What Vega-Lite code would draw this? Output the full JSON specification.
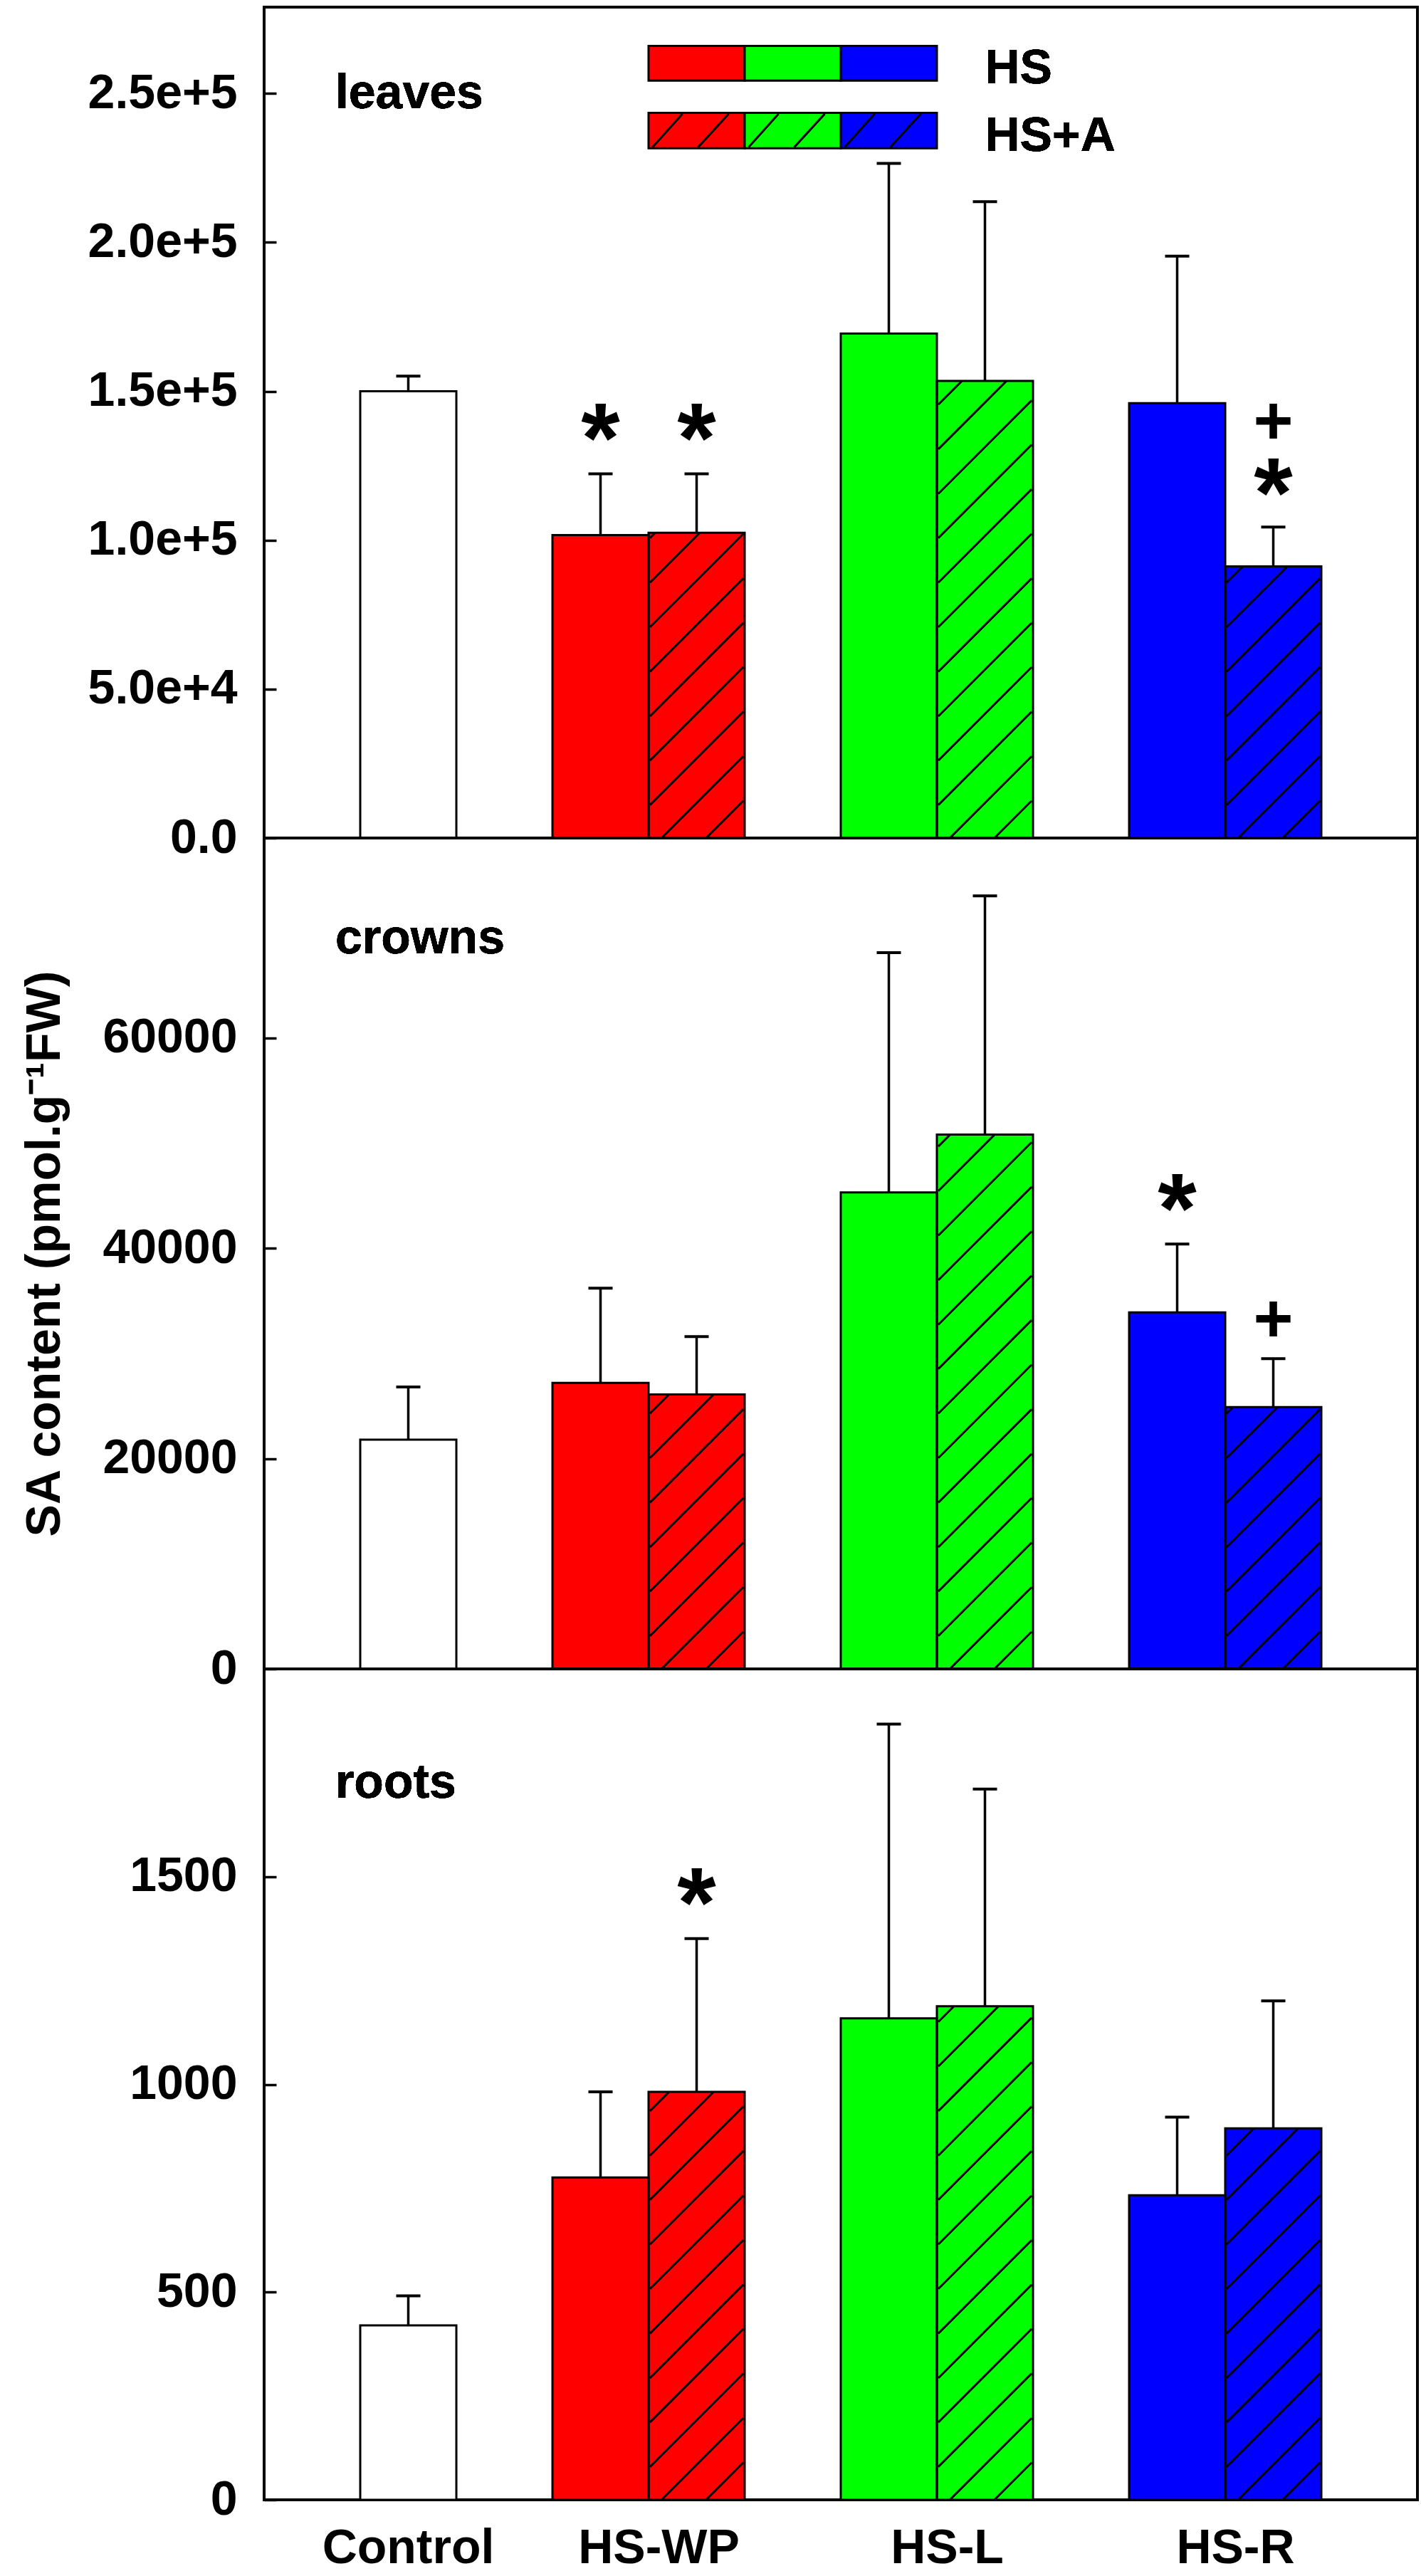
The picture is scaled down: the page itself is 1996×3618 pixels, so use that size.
{
  "$schema": "https://vega.github.io/schema/vega-lite/v6.json",
  "background": "#ffffff",
  "padding": {"left": 27, "top": 8, "right": 6, "bottom": 0},
  "spacing": 0,
  "bounds": "flush",
  "config": {
    "font": "Liberation Sans",
    "view": {"stroke": "#000000", "strokeWidth": 4},
    "axis": {
      "labelFont": "Liberation Sans",
      "labelFontSize": 68,
      "labelFontWeight": "bold",
      "labelColor": "#000000",
      "labelLimit": 0,
      "titleFont": "Liberation Sans",
      "titleFontSize": 68,
      "titleFontWeight": "bold",
      "titleColor": "#000000",
      "domain": false,
      "grid": false,
      "tickColor": "#000000",
      "tickWidth": 3.5,
      "labelOverlap": false
    },
    "axisY": {"tickSize": 17, "offset": -17, "labelPadding": 38, "titlePadding": 46, "maxExtent": 400},
    "axisX": {"ticks": false, "labelPadding": 34, "labelAngle": 0}
  },
  "datasets": {
    "bars": [
      {"organ": "leaves", "bar": "Control", "group": "Control", "treat": "C", "mean": 150000, "hi": 155100},
      {"organ": "leaves", "bar": "HS-WP HS", "group": "HS-WP", "treat": "HS", "mean": 101700, "hi": 122300},
      {"organ": "leaves", "bar": "HS-WP HS+A", "group": "HS-WP", "treat": "HS+A", "mean": 102500, "hi": 122300},
      {"organ": "leaves", "bar": "HS-L HS", "group": "HS-L", "treat": "HS", "mean": 169400, "hi": 226500},
      {"organ": "leaves", "bar": "HS-L HS+A", "group": "HS-L", "treat": "HS+A", "mean": 153500, "hi": 213700},
      {"organ": "leaves", "bar": "HS-R HS", "group": "HS-R", "treat": "HS", "mean": 146000, "hi": 195400},
      {"organ": "leaves", "bar": "HS-R HS+A", "group": "HS-R", "treat": "HS+A", "mean": 91200, "hi": 104400},
      {"organ": "crowns", "bar": "Control", "group": "Control", "treat": "C", "mean": 21800, "hi": 26800},
      {"organ": "crowns", "bar": "HS-WP HS", "group": "HS-WP", "treat": "HS", "mean": 27200, "hi": 36200},
      {"organ": "crowns", "bar": "HS-WP HS+A", "group": "HS-WP", "treat": "HS+A", "mean": 26100, "hi": 31600},
      {"organ": "crowns", "bar": "HS-L HS", "group": "HS-L", "treat": "HS", "mean": 45300, "hi": 68100},
      {"organ": "crowns", "bar": "HS-L HS+A", "group": "HS-L", "treat": "HS+A", "mean": 50800, "hi": 73500},
      {"organ": "crowns", "bar": "HS-R HS", "group": "HS-R", "treat": "HS", "mean": 33900, "hi": 40400},
      {"organ": "crowns", "bar": "HS-R HS+A", "group": "HS-R", "treat": "HS+A", "mean": 24900, "hi": 29500},
      {"organ": "roots", "bar": "Control", "group": "Control", "treat": "C", "mean": 420, "hi": 491},
      {"organ": "roots", "bar": "HS-WP HS", "group": "HS-WP", "treat": "HS", "mean": 776, "hi": 982},
      {"organ": "roots", "bar": "HS-WP HS+A", "group": "HS-WP", "treat": "HS+A", "mean": 982, "hi": 1351},
      {"organ": "roots", "bar": "HS-L HS", "group": "HS-L", "treat": "HS", "mean": 1159, "hi": 1867},
      {"organ": "roots", "bar": "HS-L HS+A", "group": "HS-L", "treat": "HS+A", "mean": 1188, "hi": 1711},
      {"organ": "roots", "bar": "HS-R HS", "group": "HS-R", "treat": "HS", "mean": 733, "hi": 921},
      {"organ": "roots", "bar": "HS-R HS+A", "group": "HS-R", "treat": "HS+A", "mean": 894, "hi": 1201}
    ],
    "notes": [
      {"organ": "leaves", "bar": "HS-WP HS", "sym": "*", "at": 138200},
      {"organ": "leaves", "bar": "HS-WP HS+A", "sym": "*", "at": 138200},
      {"organ": "leaves", "bar": "HS-R HS+A", "sym": "+", "at": 139700},
      {"organ": "leaves", "bar": "HS-R HS+A", "sym": "*", "at": 119800},
      {"organ": "crowns", "bar": "HS-R HS", "sym": "*", "at": 44900},
      {"organ": "crowns", "bar": "HS-R HS+A", "sym": "+", "at": 33200},
      {"organ": "roots", "bar": "HS-WP HS+A", "sym": "*", "at": 1465}
    ],
    "legend": [
      {"row": "HS", "group": "HS-WP", "bar": "HS-WP HS+A"},
      {"row": "HS", "group": "HS-L", "bar": "gap2"},
      {"row": "HS", "group": "HS-R", "bar": "HS-L HS"},
      {"row": "HS+A", "group": "HS-WP", "bar": "HS-WP HS+A"},
      {"row": "HS+A", "group": "HS-L", "bar": "gap2"},
      {"row": "HS+A", "group": "HS-R", "bar": "HS-L HS"}
    ]
  },
  "vconcat": [
    {
      "width": 1620,
      "height": 1167,
      "data": {"name": "bars"},
      "transform": [{"filter": "datum.organ === 'leaves'"}],
      "resolve": {"axis": {"x": "independent", "y": "independent"}},
      "encoding": {
        "x": {"field": "bar", "type": "nominal", "axis": null,
          "scale": {"type": "band", "paddingInner": 0, "paddingOuter": 0,
            "domain": ["gap0", "Control", "gap1", "HS-WP HS", "HS-WP HS+A", "gap2", "HS-L HS", "HS-L HS+A", "gap3", "HS-R HS", "HS-R HS+A", "gap4"]}}
      },
      "layer": [
        {
          "mark": {"type": "bar", "strokeWidth": 0},
          "encoding": {
            "y": {"field": "mean", "type": "quantitative",
              "scale": {"domain": [0, 279000], "nice": false, "zero": false},
              "axis": {"orient": "left", "title": null, "values": [0, 50000, 100000, 150000, 200000, 250000],
                "labelExpr": "datum.value === 0 ? '0.0' : format(datum.value, '.1e')"}},
            "fill": {"field": "group", "type": "nominal", "legend": null,
              "scale": {"domain": ["Control", "HS-WP", "HS-L", "HS-R"], "range": ["#ffffff", "#ff0000", "#00ff00", "#0000ff"]}}
          }
        },
        {
          "transform": [{"filter": "datum.treat === 'HS+A'"}],
          "mark": {"type": "point", "clip": true, "filled": false, "opacity": 1, "stroke": "#000000", "strokeWidth": 3, "size": 705600,
            "shape": "M0.032 1L0.156 0.876M-0.117 1L0.156 0.727M-0.156 0.89L0.156 0.578M-0.156 0.741L0.156 0.429M-0.156 0.593L0.156 0.281M-0.156 0.444L0.156 0.132M-0.156 0.295L0.156 -0.017M-0.156 0.146L0.156 -0.166M-0.156 -0.003L0.156 -0.315M-0.156 -0.151L0.156 -0.463M-0.156 -0.3L0.156 -0.612M-0.156 -0.449L0.156 -0.761M-0.156 -0.598L0.156 -0.91M-0.156 -0.747L0.097 -1M-0.156 -0.895L-0.051 -1"},
          "encoding": {"y": {"datum": 100440, "type": "quantitative", "axis": null}}
        },
        {
          "transform": [{"filter": "datum.treat === 'HS+A'"}],
          "mark": {"type": "bar", "color": "#ffffff", "strokeWidth": 0},
          "encoding": {
            "y": {"field": "mean", "type": "quantitative", "axis": null},
            "y2": {"datum": 206500}
          }
        },
        {
          "mark": {"type": "bar", "fillOpacity": 0, "stroke": "#000000", "strokeWidth": 3},
          "encoding": {"y": {"field": "mean", "type": "quantitative", "axis": null}}
        },
        {
          "mark": {"type": "rule", "color": "#000000", "strokeWidth": 3.5},
          "encoding": {
            "y": {"field": "mean", "type": "quantitative", "axis": null},
            "y2": {"field": "hi"}
          }
        },
        {
          "mark": {"type": "tick", "orient": "horizontal", "color": "#000000", "opacity": 1, "size": 34, "thickness": 4},
          "encoding": {"y": {"field": "hi", "type": "quantitative", "axis": null}}
        },
        {
          "data": {"name": "notes"},
          "transform": [{"filter": "datum.organ === 'leaves' && datum.sym === '*'"}],
          "mark": {"type": "text", "fontSize": 140, "fontWeight": "bold", "baseline": "middle", "align": "center", "dy": 22, "color": "#000000"},
          "encoding": {"y": {"field": "at", "type": "quantitative", "axis": null}, "text": {"field": "sym"}}
        },
        {
          "data": {"name": "notes"},
          "transform": [{"filter": "datum.organ === 'leaves' && datum.sym === '+'"}],
          "mark": {"type": "text", "fontSize": 96, "fontWeight": "bold", "baseline": "middle", "align": "center", "dy": 2, "color": "#000000"},
          "encoding": {"y": {"field": "at", "type": "quantitative", "axis": null}, "text": {"field": "sym"}}
        },
        {
          "mark": {"type": "text", "text": "leaves", "fontSize": 68, "fontWeight": "bold", "align": "left", "baseline": "alphabetic", "color": "#000000"},
          "encoding": {
            "x": {"datum": "gap0", "bandPosition": 0.74, "axis": null},
            "y": {"datum": 245000, "type": "quantitative", "axis": null}
          }
        },
        {
          "data": {"name": "legend"},
          "transform": [{"filter": "datum.row === 'HS'"}],
          "mark": {"type": "bar", "stroke": "#000000", "strokeWidth": 3},
          "encoding": {
            "y": {"datum": 266000, "type": "quantitative", "axis": null},
            "y2": {"datum": 254300},
            "fill": {"field": "group", "type": "nominal", "legend": null}
          }
        },
        {
          "data": {"name": "legend"},
          "transform": [{"filter": "datum.row === 'HS+A'"}],
          "mark": {"type": "bar", "stroke": "#000000", "strokeWidth": 3},
          "encoding": {
            "y": {"datum": 243500, "type": "quantitative", "axis": null},
            "y2": {"datum": 231600},
            "fill": {"field": "group", "type": "nominal", "legend": null}
          }
        },
        {
          "data": {"name": "legend"},
          "transform": [{"filter": "datum.row === 'HS+A'"}],
          "mark": {"type": "point", "filled": false, "opacity": 1, "stroke": "#000000", "strokeWidth": 3, "size": 18225,
            "shape": "M-0.918 0.348L-0.296 -0.348M0.03 0.348L0.667 -0.348"},
          "encoding": {"y": {"datum": 237550, "type": "quantitative", "axis": null}}
        },
        {
          "mark": {"type": "text", "text": "HS", "fontSize": 68, "fontWeight": "bold", "align": "left", "baseline": "middle", "color": "#000000"},
          "encoding": {
            "x": {"datum": "HS-L HS+A", "axis": null},
            "y": {"datum": 258100, "type": "quantitative", "axis": null}
          }
        },
        {
          "mark": {"type": "text", "text": "HS+A", "fontSize": 68, "fontWeight": "bold", "align": "left", "baseline": "middle", "color": "#000000"},
          "encoding": {
            "x": {"datum": "HS-L HS+A", "axis": null},
            "y": {"datum": 235400, "type": "quantitative", "axis": null}
          }
        }
      ]
    },
    {
      "width": 1620,
      "height": 1167,
      "data": {"name": "bars"},
      "transform": [{"filter": "datum.organ === 'crowns'"}],
      "resolve": {"axis": {"x": "independent", "y": "independent"}},
      "encoding": {
        "x": {"field": "bar", "type": "nominal", "axis": null,
          "scale": {"type": "band", "paddingInner": 0, "paddingOuter": 0,
            "domain": ["gap0", "Control", "gap1", "HS-WP HS", "HS-WP HS+A", "gap2", "HS-L HS", "HS-L HS+A", "gap3", "HS-R HS", "HS-R HS+A", "gap4"]}}
      },
      "layer": [
        {
          "mark": {"type": "bar", "strokeWidth": 0},
          "encoding": {
            "y": {"field": "mean", "type": "quantitative",
              "scale": {"domain": [0, 79000], "nice": false, "zero": false},
              "axis": {"orient": "left", "title": "SA content (pmol.g⁻¹FW)", "values": [0, 20000, 40000, 60000], "format": "d"}},
            "fill": {"field": "group", "type": "nominal", "legend": null,
              "scale": {"domain": ["Control", "HS-WP", "HS-L", "HS-R"], "range": ["#ffffff", "#ff0000", "#00ff00", "#0000ff"]}}
          }
        },
        {
          "transform": [{"filter": "datum.treat === 'HS+A'"}],
          "mark": {"type": "point", "clip": true, "filled": false, "opacity": 1, "stroke": "#000000", "strokeWidth": 3, "size": 705600,
            "shape": "M0.032 1L0.156 0.876M-0.117 1L0.156 0.727M-0.156 0.89L0.156 0.578M-0.156 0.741L0.156 0.429M-0.156 0.593L0.156 0.281M-0.156 0.444L0.156 0.132M-0.156 0.295L0.156 -0.017M-0.156 0.146L0.156 -0.166M-0.156 -0.003L0.156 -0.315M-0.156 -0.151L0.156 -0.463M-0.156 -0.3L0.156 -0.612M-0.156 -0.449L0.156 -0.761M-0.156 -0.598L0.156 -0.91M-0.156 -0.747L0.097 -1M-0.156 -0.895L-0.051 -1"},
          "encoding": {"y": {"datum": 28440, "type": "quantitative", "axis": null}}
        },
        {
          "transform": [{"filter": "datum.treat === 'HS+A'"}],
          "mark": {"type": "bar", "color": "#ffffff", "strokeWidth": 0},
          "encoding": {
            "y": {"field": "mean", "type": "quantitative", "axis": null},
            "y2": {"datum": 58500}
          }
        },
        {
          "mark": {"type": "bar", "fillOpacity": 0, "stroke": "#000000", "strokeWidth": 3},
          "encoding": {"y": {"field": "mean", "type": "quantitative", "axis": null}}
        },
        {
          "mark": {"type": "rule", "color": "#000000", "strokeWidth": 3.5},
          "encoding": {
            "y": {"field": "mean", "type": "quantitative", "axis": null},
            "y2": {"field": "hi"}
          }
        },
        {
          "mark": {"type": "tick", "orient": "horizontal", "color": "#000000", "opacity": 1, "size": 34, "thickness": 4},
          "encoding": {"y": {"field": "hi", "type": "quantitative", "axis": null}}
        },
        {
          "data": {"name": "notes"},
          "transform": [{"filter": "datum.organ === 'crowns' && datum.sym === '*'"}],
          "mark": {"type": "text", "fontSize": 140, "fontWeight": "bold", "baseline": "middle", "align": "center", "dy": 22, "color": "#000000"},
          "encoding": {"y": {"field": "at", "type": "quantitative", "axis": null}, "text": {"field": "sym"}}
        },
        {
          "data": {"name": "notes"},
          "transform": [{"filter": "datum.organ === 'crowns' && datum.sym === '+'"}],
          "mark": {"type": "text", "fontSize": 96, "fontWeight": "bold", "baseline": "middle", "align": "center", "dy": 2, "color": "#000000"},
          "encoding": {"y": {"field": "at", "type": "quantitative", "axis": null}, "text": {"field": "sym"}}
        },
        {
          "mark": {"type": "text", "text": "crowns", "fontSize": 68, "fontWeight": "bold", "align": "left", "baseline": "alphabetic", "color": "#000000"},
          "encoding": {
            "x": {"datum": "gap0", "bandPosition": 0.74, "axis": null},
            "y": {"datum": 68000, "type": "quantitative", "axis": null}
          }
        }
      ]
    },
    {
      "width": 1620,
      "height": 1167,
      "data": {"name": "bars"},
      "transform": [{"filter": "datum.organ === 'roots'"}],
      "resolve": {"axis": {"x": "independent", "y": "independent"}},
      "encoding": {
        "x": {"field": "bar", "type": "nominal", "axis": null,
          "scale": {"type": "band", "paddingInner": 0, "paddingOuter": 0,
            "domain": ["gap0", "Control", "gap1", "HS-WP HS", "HS-WP HS+A", "gap2", "HS-L HS", "HS-L HS+A", "gap3", "HS-R HS", "HS-R HS+A", "gap4"]}}
      },
      "layer": [
        {
          "mark": {"type": "bar", "strokeWidth": 0},
          "encoding": {
            "x": {"field": "bar", "type": "nominal",
              "scale": {"type": "band", "paddingInner": 0, "paddingOuter": 0,
                "domain": ["gap0", "Control", "gap1", "HS-WP HS", "HS-WP HS+A", "gap2", "HS-L HS", "HS-L HS+A", "gap3", "HS-R HS", "HS-R HS+A", "gap4"]},
              "axis": {"orient": "bottom", "title": null, "values": ["Control"]}},
            "y": {"field": "mean", "type": "quantitative",
              "scale": {"domain": [0, 2000], "nice": false, "zero": false},
              "axis": {"orient": "left", "title": null, "values": [0, 500, 1000, 1500], "format": "d"}},
            "fill": {"field": "group", "type": "nominal", "legend": null,
              "scale": {"domain": ["Control", "HS-WP", "HS-L", "HS-R"], "range": ["#ffffff", "#ff0000", "#00ff00", "#0000ff"]}}
          }
        },
        {
          "transform": [{"filter": "datum.treat === 'HS+A'"}],
          "mark": {"type": "point", "clip": true, "filled": false, "opacity": 1, "stroke": "#000000", "strokeWidth": 3, "size": 705600,
            "shape": "M0.032 1L0.156 0.876M-0.117 1L0.156 0.727M-0.156 0.89L0.156 0.578M-0.156 0.741L0.156 0.429M-0.156 0.593L0.156 0.281M-0.156 0.444L0.156 0.132M-0.156 0.295L0.156 -0.017M-0.156 0.146L0.156 -0.166M-0.156 -0.003L0.156 -0.315M-0.156 -0.151L0.156 -0.463M-0.156 -0.3L0.156 -0.612M-0.156 -0.449L0.156 -0.761M-0.156 -0.598L0.156 -0.91M-0.156 -0.747L0.097 -1M-0.156 -0.895L-0.051 -1"},
          "encoding": {"y": {"datum": 720, "type": "quantitative", "axis": null}}
        },
        {
          "transform": [{"filter": "datum.treat === 'HS+A'"}],
          "mark": {"type": "bar", "color": "#ffffff", "strokeWidth": 0},
          "encoding": {
            "y": {"field": "mean", "type": "quantitative", "axis": null},
            "y2": {"datum": 1480}
          }
        },
        {
          "mark": {"type": "bar", "fillOpacity": 0, "stroke": "#000000", "strokeWidth": 3},
          "encoding": {
            "x": {"field": "bar", "type": "nominal",
              "scale": {"type": "band", "paddingInner": 0, "paddingOuter": 0,
                "domain": ["gap0", "Control", "gap1", "HS-WP HS", "HS-WP HS+A", "gap2", "HS-L HS", "HS-L HS+A", "gap3", "HS-R HS", "HS-R HS+A", "gap4"]},
              "axis": {"orient": "bottom", "title": null, "values": ["HS-WP HS", "HS-L HS", "HS-R HS"], "labelOffset": 82,
                "labelExpr": "datum.value === 'HS-WP HS' ? 'HS-WP' : datum.value === 'HS-L HS' ? 'HS-L' : 'HS-R'"}},
            "y": {"field": "mean", "type": "quantitative", "axis": null}
          }
        },
        {
          "mark": {"type": "rule", "color": "#000000", "strokeWidth": 3.5},
          "encoding": {
            "y": {"field": "mean", "type": "quantitative", "axis": null},
            "y2": {"field": "hi"}
          }
        },
        {
          "mark": {"type": "tick", "orient": "horizontal", "color": "#000000", "opacity": 1, "size": 34, "thickness": 4},
          "encoding": {"y": {"field": "hi", "type": "quantitative", "axis": null}}
        },
        {
          "data": {"name": "notes"},
          "transform": [{"filter": "datum.organ === 'roots' && datum.sym === '*'"}],
          "mark": {"type": "text", "fontSize": 140, "fontWeight": "bold", "baseline": "middle", "align": "center", "dy": 22, "color": "#000000"},
          "encoding": {"y": {"field": "at", "type": "quantitative", "axis": null}, "text": {"field": "sym"}}
        },
        {
          "mark": {"type": "text", "text": "roots", "fontSize": 68, "fontWeight": "bold", "align": "left", "baseline": "alphabetic", "color": "#000000"},
          "encoding": {
            "x": {"datum": "gap0", "bandPosition": 0.74, "axis": null},
            "y": {"datum": 1690, "type": "quantitative", "axis": null}
          }
        }
      ]
    }
  ]
}
